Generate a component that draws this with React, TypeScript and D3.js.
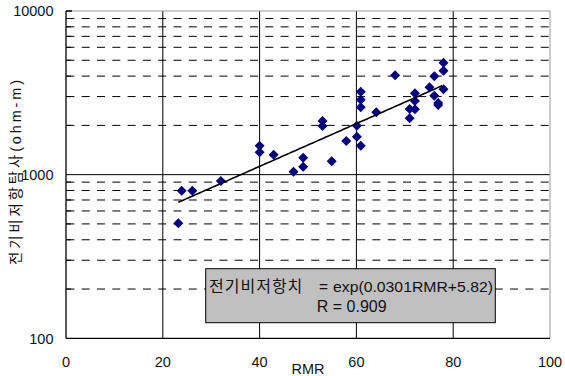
import React from "react";
import * as d3 from "d3";

const rmr = [23.2, 23.9, 26.1, 32.0, 40.0, 40.0, 42.9, 47.0, 49.0, 49.0, 53.0, 53.0, 54.9, 57.9, 60.1, 60.1, 60.9, 60.9, 60.9, 60.9, 64.1, 68.0, 71.0, 71.0, 72.1, 72.1, 72.1, 75.1, 76.1, 76.1, 76.9, 76.9, 78.0, 78.0, 78.0];
const resistivity = [504, 798, 798, 915, 1503, 1370, 1324, 1042, 1270, 1118, 2128, 1983, 1207, 1605, 1991, 1706, 1503, 3213, 2871, 2579, 2404, 4046, 2209, 2518, 2508, 2818, 3142, 3419, 3990, 3038, 2740, 2665, 4831, 4316, 3323];
const xTicks = [0, 20, 40, 60, 80, 100];
const yTicks = [100, 1000, 10000];
const yMinor = [200, 300, 400, 500, 600, 700, 800, 900, 2000, 3000, 4000, 5000, 6000, 7000, 8000, 9000];
const fitA = 0.0301;
const fitB = 5.82;
const fitRange = [23.2, 78.0];
const xTitle = "RMR";
const yTitle = "전기비저항탐사(ohm-m)";
const eqKorean = "전기비저항치";
const eqFormula = "exp(0.0301RMR+5.82)";
const eqLine2 = "R = 0.909";

const W = 565, H = 376;
const L = 66, R = 550, T = 11, B = 338.3;
const FONT = "'Liberation Sans', 'Noto Sans CJK KR', sans-serif";

export default function App() {
  const x = d3.scaleLinear().domain([0, 100]).range([L, R]);
  const y = d3.scaleLog().domain([100, 10000]).range([B, T]);
  const fitPts = d3.range(fitRange[0], fitRange[1] + 0.001, 0.5).map(v => [v, Math.exp(fitA * v + fitB)] as [number, number]);
  const line = d3.line<[number, number]>().x(d => x(d[0])).y(d => y(d[1]));
  const diamond = (cx: number, cy: number, r = 5) => `M${cx},${cy - r}L${cx + r},${cy}L${cx},${cy + r}L${cx - r},${cy}Z`;
  return (
    <svg width={W} height={H} style={{ position: "absolute", left: 0, top: 0, background: "#fff" }} fontFamily={FONT}>
      <rect x={0} y={0} width={W} height={H} fill="#fff" />
      {yMinor.map(v => (
        <g key={v}>
          <line x1={L} x2={R} y1={y(v)} y2={y(v)} stroke="#000" strokeWidth={1} strokeDasharray="8 7.3" strokeDashoffset={14.9} />
          <line x1={L} x2={L + 5} y1={y(v)} y2={y(v)} stroke="#000" strokeWidth={1} />
        </g>
      ))}
      <line x1={L} x2={R} y1={y(1000)} y2={y(1000)} stroke="#000" strokeWidth={1} />
      {xTicks.slice(1, -1).map(v => (
        <line key={v} x1={x(v)} x2={x(v)} y1={T} y2={B} stroke="#000" strokeWidth={1} />
      ))}
      <line x1={L} x2={R} y1={T} y2={T} stroke="#999" strokeWidth={1} />
      <line x1={R} x2={R} y1={T} y2={B} stroke="#999" strokeWidth={1} />
      <line x1={L} x2={R} y1={B} y2={B} stroke="#000" strokeWidth={1.3} />
      <line x1={L} x2={L} y1={T} y2={B} stroke="#000" strokeWidth={1.3} />
      <line x1={L} x2={L + 6} y1={T} y2={T} stroke="#000" strokeWidth={1.5} />
      {rmr.map((v, i) => (
        <path key={i} d={diamond(x(v), y(resistivity[i]))} fill="#000080" />
      ))}
      <path d={line(fitPts) || ""} fill="none" stroke="#000" strokeWidth={1.6} />
      {yTicks.map(v => (
        <text key={v} x={53.5} y={y(v)} dy="0.36em" textAnchor="end" fontSize={14.5} fill="#111">{v}</text>
      ))}
      {xTicks.map(v => (
        <text key={v} x={x(v)} y={367} textAnchor="middle" fontSize={14.5} fill="#111">{v}</text>
      ))}
      <text x={308} y={374} textAnchor="middle" fontSize={14.5} fill="#111">{xTitle}</text>
      <text transform={`translate(20.5,172.5) rotate(-90)`} textAnchor="middle" fontSize={14.5} fill="#111" textLength={185} lengthAdjust="spacing">{yTitle}</text>
      <rect x={205.7} y={268.7} width={289.6} height={54} fill="#c0c0c0" stroke="#000" strokeWidth={1} />
      <text y={292} fontSize={15.5} fill="#111">
        <tspan x={209} fontSize={16} letterSpacing={1}>{eqKorean}</tspan>
        <tspan x={319}>=</tspan>
        <tspan x={333} textLength={160} lengthAdjust="spacingAndGlyphs">{eqFormula}</tspan>
      </text>
      <text x={351.7} y={312} textAnchor="middle" fontSize={16} fill="#111">{eqLine2}</text>
    </svg>
  );
}
